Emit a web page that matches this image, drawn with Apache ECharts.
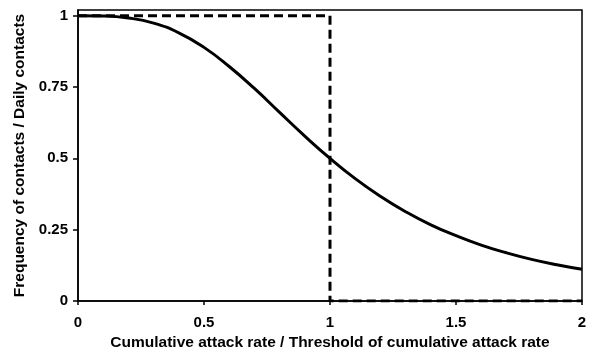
<!DOCTYPE html>
<html>
<head>
<meta charset="utf-8">
<script src="https://cdn.jsdelivr.net/npm/echarts@6/dist/echarts.min.js"></script>
<style>html,body{margin:0;padding:0;background:#fff;}#c{width:590px;height:352px;}</style>
</head>
<body>
<div id="c"></div>
<script>
var curveX = [0,0.1,0.2,0.3,0.4,0.5,0.6,0.7,0.8,0.9,1.0,1.1,1.2,1.3,1.4,1.5,1.6,1.7,1.8,1.9,2.0];
var curveY = [1,0.999,0.992,0.974,0.94,0.889,0.822,0.745,0.661,0.578,0.5,0.429,0.367,0.313,0.267,0.229,0.196,0.169,0.146,0.127,0.111];
var stepX = [0,1,1,2];
var stepY = [1,1,0,0];
var xTicks = [0,0.5,1,1.5,2];
var yTicks = [0,0.25,0.5,0.75,1];
var xTitle = 'Cumulative attack rate / Threshold of cumulative attack rate';
var yTitle = 'Frequency of contacts / Daily contacts';

var font = 'Liberation Sans, Arial, sans-serif';
function zip(a,b){return a.map(function(v,i){return [v,b[i]];});}
var chart = echarts.init(document.getElementById('c'), null, {renderer:'canvas'});
chart.setOption({
  animation:false,
  backgroundColor:'#fff',
  grid:{left:78,right:8,top:10,bottom:51,show:true,borderColor:'#000',borderWidth:1.5,containLabel:false,outerBoundsMode:'none'},
  xAxis:{type:'value',min:0,max:2,interval:0.5,
    name:xTitle,nameLocation:'middle',nameGap:34,
    nameTextStyle:{fontFamily:font,fontWeight:'bold',fontSize:15.5,color:'#000'},
    axisLine:{show:true,lineStyle:{color:'#000',width:1.5}},
    axisTick:{show:true,length:4,lineStyle:{color:'#000',width:1.5},customValues:xTicks},
    axisLabel:{fontFamily:font,fontWeight:'bold',fontSize:15,color:'#000',margin:14,customValues:xTicks,
      formatter:function(v){return String(v);}},
    splitLine:{show:false}},
  yAxis:{type:'value',min:0,max:1.02,
    name:yTitle,nameLocation:'middle',nameGap:49,
    nameTextStyle:{fontFamily:font,fontWeight:'bold',fontSize:15.5,color:'#000'},
    axisLine:{show:true,lineStyle:{color:'#000',width:1.5}},
    axisTick:{show:true,length:5,lineStyle:{color:'#000',width:1.5},customValues:yTicks},
    axisLabel:{fontFamily:font,fontWeight:'bold',fontSize:15,color:'#000',margin:10,customValues:yTicks,
      formatter:function(v){return String(v);}},
    splitLine:{show:false}},
  series:[
    {type:'line',data:zip(curveX,curveY),smooth:true,symbol:'none',
      lineStyle:{color:'#000',width:3}},
    {type:'line',data:zip(stepX,stepY),symbol:'none',
      lineStyle:{color:'#000',width:3,type:[9,5]}}
  ]
});
</script>
</body>
</html>
